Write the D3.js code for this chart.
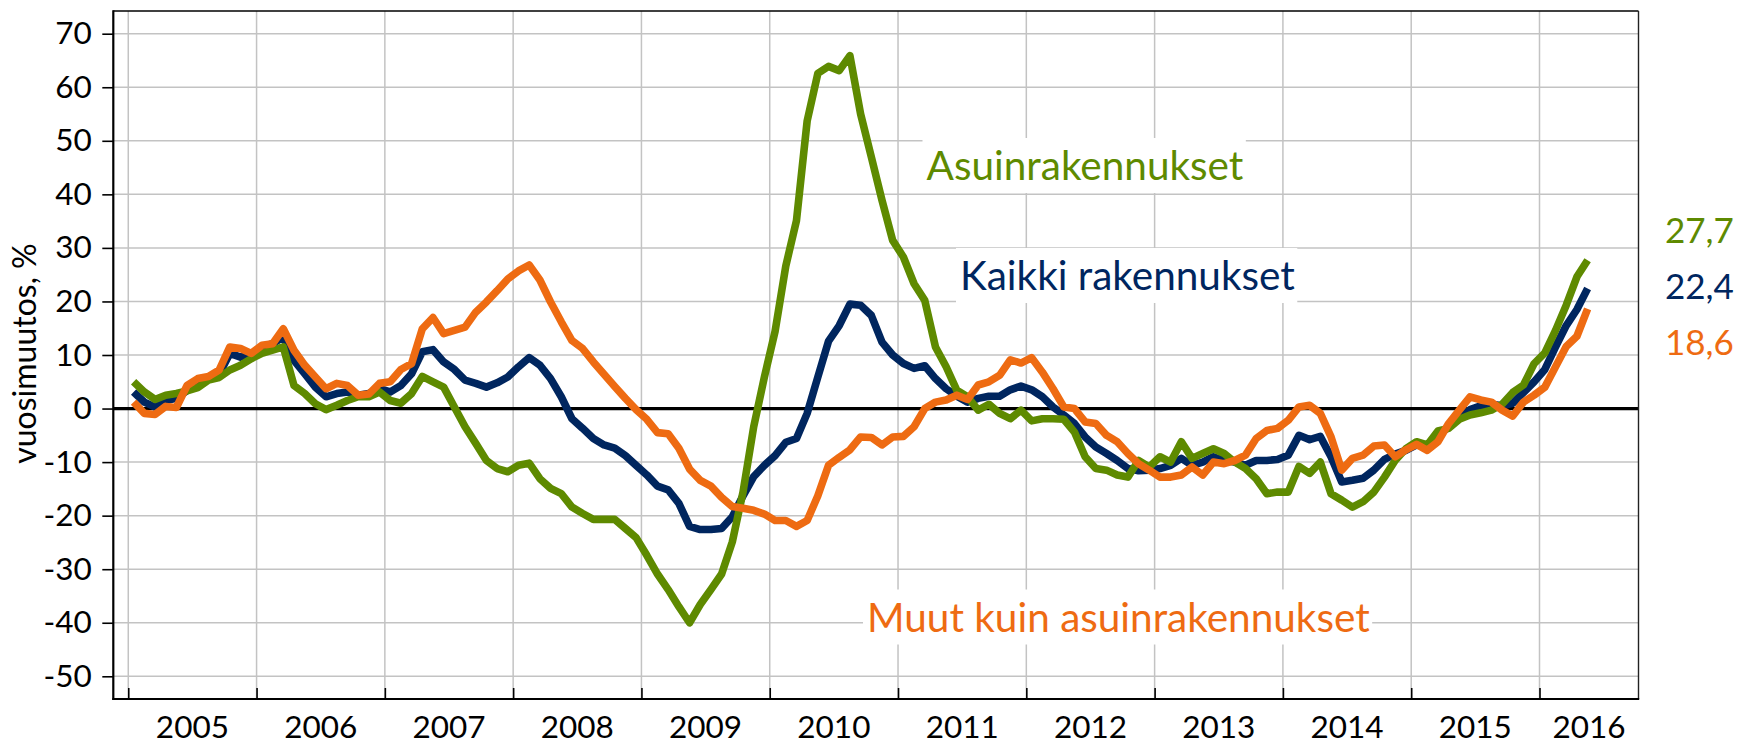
<!DOCTYPE html>
<html>
<head>
<meta charset="utf-8">
<script src="https://cdn.jsdelivr.net/npm/d3@7/dist/d3.min.js"></script>
<style>
  html, body { margin: 0; padding: 0; background: #ffffff; }
  svg { display: block; font-family: Lato, "Open Sans", sans-serif; }
</style>
</head>
<body>
<svg id="chart" width="1749" height="744"></svg>
<script>
// ---------------- DATA ----------------
const years = ["2005","2006","2007","2008","2009","2010","2011","2012","2013","2014","2015","2016"];
const monthCodes = ["01","02","03","04","05","06","07","08","09","10","11","12"];
// monthly categories 2005M01 ... 2016M05
const months = years.flatMap(y => monthCodes.map(m => y + "M" + m)).slice(0, 137);

const yTicks = [-50, -40, -30, -20, -10, 0, 10, 20, 30, 40, 50, 60, 70];

// Kaikki rakennukset (all buildings), annual change %
const kaikki = [
  3.1, 1.2, 0.3, 1.5, 1.9, 3.4, 4.8, 5.8, 6.4, 10.3, 9.6, 10.0,
  11.5, 12.1, 13.4, 9.0, 6.5, 4.0, 2.2, 2.8, 3.1, 2.5, 2.8, 3.7,
  3.1, 4.3, 6.5, 10.6, 11.0, 8.7, 7.3, 5.3, 4.7, 4.0, 4.8, 5.9,
  7.8, 9.5, 8.1, 5.6, 2.2, -1.9, -3.7, -5.6, -6.8, -7.4, -8.8, -10.6,
  -12.4, -14.5, -15.2, -17.7, -22.0, -22.6, -22.6, -22.4, -20.2, -16.3, -12.7, -10.6,
  -8.8, -6.3, -5.6, -0.9, 5.9, 12.6, 15.5, 19.5, 19.3, 17.4, 12.4, 10.0,
  8.4, 7.5, 8.0, 5.6, 3.7, 2.3, 1.2, 1.9, 2.3, 2.3, 3.5, 4.2,
  3.5, 2.2, 0.3, -1.2, -2.8, -5.3, -7.2, -8.4, -9.7, -11.2, -11.6, -11.5,
  -11.2, -10.6, -9.3, -10.6, -10.0, -9.0, -9.7, -10.0, -10.6, -9.7, -9.7, -9.5,
  -8.7, -5.0, -5.8, -5.2, -9.0, -13.7, -13.4, -13.0, -11.5, -9.5, -8.5, -7.8,
  -6.8, -7.0, -5.0, -3.5, -1.5, -0.2, 0.5, 0.8, 0.5, 1.0, 3.0, 5.0,
  7.3, 11.5, 15.5, 18.5, 22.4
];

// Asuinrakennukset (residential buildings)
const asuin = [
  5.0, 3.1, 1.7, 2.5, 2.8, 3.3, 3.9, 5.3, 5.8, 7.2, 8.1, 9.3,
  10.3, 10.9, 11.5, 4.3, 2.8, 0.9, -0.2, 0.6, 1.5, 2.2, 2.2, 3.1,
  1.5, 1.0, 2.8, 6.0, 5.0, 4.0, 0.3, -3.4, -6.5, -9.7, -11.2, -11.8,
  -10.6, -10.2, -13.1, -14.9, -15.9, -18.4, -19.6, -20.7, -20.7, -20.7, -22.4, -24.1,
  -27.4, -30.9, -33.8, -37.0, -40.0, -36.6, -33.8, -30.9, -24.9, -15.6, -3.4, 5.9,
  14.4, 26.6, 35.1, 53.7, 62.6, 63.9, 63.1, 65.9, 55.0, 47.0, 38.9, 31.4,
  28.3, 23.3, 20.2, 11.5, 7.8, 3.4, 2.2, -0.3, 0.8, -0.9, -1.9, -0.3,
  -2.3, -1.9, -1.9, -2.0, -4.4, -9.0, -11.2, -11.5, -12.4, -12.8, -9.7, -10.9,
  -9.0, -10.0, -6.2, -9.3, -8.4, -7.5, -8.4, -10.0, -11.2, -13.1, -15.9, -15.6,
  -15.6, -10.8, -12.1, -10.0, -15.9, -17.1, -18.4, -17.4, -15.6, -12.8, -9.7, -7.5,
  -6.2, -6.8, -4.2, -3.7, -2.0, -1.2, -0.8, -0.3, 0.8, 3.0, 4.4, 8.4,
  10.4, 14.6, 19.3, 24.6, 27.7
];

// Muut kuin asuinrakennukset (non-residential buildings)
const muut = [
  1.2, -0.9, -1.1, 0.4, 0.2, 4.3, 5.6, 6.0, 7.2, 11.5, 11.2, 10.3,
  11.8, 12.1, 14.9, 10.9, 8.1, 5.9, 3.7, 4.7, 4.3, 2.5, 2.7, 4.7,
  5.0, 7.3, 8.4, 14.9, 17.0, 14.0, 14.6, 15.2, 18.0, 19.9, 22.0, 24.2,
  25.7, 26.8, 24.0, 19.9, 16.2, 12.7, 11.2, 8.7, 6.4, 4.1, 1.9, -0.2,
  -2.0, -4.5, -4.7, -7.4, -11.3, -13.4, -14.5, -16.6, -18.3, -18.6, -19.0, -19.7,
  -20.9, -20.9, -22.0, -20.9, -16.3, -10.6, -9.1, -7.7, -5.3, -5.4, -6.8, -5.3,
  -5.2, -3.4, 0.0, 1.2, 1.6, 2.5, 1.7, 4.4, 5.0, 6.2, 9.1, 8.5,
  9.5, 6.8, 3.7, 0.3, 0.0, -2.5, -2.8, -5.0, -6.2, -8.4, -10.3, -11.5,
  -12.8, -12.8, -12.4, -10.9, -12.4, -10.0, -10.3, -9.7, -8.7, -5.6, -4.1, -3.7,
  -2.2, 0.3, 0.6, -0.9, -5.3, -11.5, -9.3, -8.7, -7.0, -6.8, -9.0, -7.7,
  -6.7, -7.8, -6.2, -2.8, -0.3, 2.2, 1.6, 1.2, -0.3, -1.4, 1.2, 2.5,
  4.0, 7.8, 11.6, 13.5, 18.6
];

const seriesNames = ["Kaikki rakennukset", "Asuinrakennukset", "Muut kuin asuinrakennukset"];
const seriesColors = ["#00265F", "#5E8A00", "#EE6B12"];
const lastLabels = ["22,4", "27,7", "18,6"];
const yTitle = "vuosimuutos, %";

// ---------------- LAYOUT ----------------
const plot = { left: 113.3, right: 1638.5, top: 11, bottom: 699 };

const x = d3.scaleLinear().domain([-1.9, 140.76]).range([plot.left, plot.right]);
const y = d3.scaleLinear().domain([-50, 70]).range([676.3, 33.7]);

const svg = d3.select("#chart");

// year boundaries (between Dec and Jan)
const yearBounds = years.map((yr, k) => 12 * k - 0.5);

// horizontal gridlines
svg.append("g").selectAll("line").data(yTicks).join("line")
  .attr("x1", plot.left).attr("x2", plot.right)
  .attr("y1", d => y(d)).attr("y2", d => y(d))
  .attr("stroke", "#c3c3c3").attr("stroke-width", 1.5);

// vertical gridlines
svg.append("g").selectAll("line").data(yearBounds).join("line")
  .attr("x1", d => x(d)).attr("x2", d => x(d))
  .attr("y1", plot.top).attr("y2", plot.bottom)
  .attr("stroke", "#c3c3c3").attr("stroke-width", 1.5);

// annotation boxes + text (white background hides gridlines)
const annos = [
  { text: seriesNames[1], color: seriesColors[1], x: 926.5, y: 180 },
  { text: seriesNames[0], color: seriesColors[0], x: 960, y: 290 },
  { text: seriesNames[2], color: seriesColors[2], x: 867, y: 631.5 }
];
const annoG = svg.append("g");
annos.forEach(a => {
  const g = annoG.append("g");
  const rect = g.append("rect").attr("fill", "#ffffff");
  const t = g.append("text")
    .attr("x", a.x).attr("y", a.y)
    .attr("fill", a.color)
    .style("font-size", "40.5px")
    .text(a.text);
  const bb = t.node().getBBox();
  rect.attr("x", bb.x - 4).attr("y", a.y - 42)
      .attr("width", bb.width + 6).attr("height", 55);
});

// zero line
svg.append("line")
  .attr("x1", plot.left).attr("x2", plot.right)
  .attr("y1", y(0)).attr("y2", y(0))
  .attr("stroke", "#000").attr("stroke-width", 3.2);

// series lines
const line = d3.line().x((d, i) => x(i)).y(d => y(d));
const seriesData = [kaikki, asuin, muut];
svg.append("g").selectAll("path").data(seriesData).join("path")
  .attr("d", d => line(d))
  .attr("fill", "none")
  .attr("stroke", (d, i) => seriesColors[i])
  .attr("stroke-width", 7.6)
  .attr("stroke-linejoin", "round")
  .attr("stroke-linecap", "butt");

// frame: top & right border
svg.append("line").attr("x1", plot.left).attr("x2", plot.right)
  .attr("y1", plot.top).attr("y2", plot.top)
  .attr("stroke", "#000").attr("stroke-width", 1.6);
svg.append("line").attr("x1", plot.right).attr("x2", plot.right)
  .attr("y1", plot.top).attr("y2", plot.bottom)
  .attr("stroke", "#222").attr("stroke-width", 1.4);

// y axis
const yAxis = d3.axisLeft(y).tickValues(yTicks).tickSize(11).tickPadding(10.5).tickFormat(d3.format("d"));
const yg = svg.append("g").attr("transform", `translate(${plot.left},0)`).call(yAxis);
yg.select(".domain").remove();
yg.selectAll(".tick line").attr("stroke", "#000").attr("stroke-width", 1.6);
yg.selectAll(".tick text").attr("fill", "#000").style("font-size", "31.5px")
  .style("font-family", "Lato, 'Open Sans', sans-serif")
  .text(d => d < 0 ? "-" + Math.abs(d) : d);
svg.append("line").attr("x1", plot.left).attr("x2", plot.left)
  .attr("y1", plot.top - 0.8).attr("y2", plot.bottom + 1)
  .attr("stroke", "#000").attr("stroke-width", 2.2);

// x axis (ticks at year boundaries, pointing inward)
const xAxis = d3.axisBottom(x).tickValues(yearBounds).tickSizeInner(-11).tickSizeOuter(0).tickFormat("");
const xg = svg.append("g").attr("transform", `translate(0,${plot.bottom})`).call(xAxis);
xg.select(".domain").remove();
xg.selectAll(".tick line").attr("stroke", "#000").attr("stroke-width", 1.6);
svg.append("line").attr("x1", plot.left - 1).attr("x2", plot.right + 0.7)
  .attr("y1", plot.bottom).attr("y2", plot.bottom)
  .attr("stroke", "#000").attr("stroke-width", 2.2);

// year labels centred within each year's span
svg.append("g").selectAll("text").data(years).join("text")
  .attr("x", (d, k) => {
    const a = x(12 * k - 0.5);
    const b = Math.min(x(12 * k + 11.5), plot.right);
    return (a + b) / 2;
  })
  .attr("y", 737.5)
  .attr("text-anchor", "middle")
  .attr("fill", "#000")
  .style("font-size", "31.5px")
  .text(d => d);

// y title
svg.append("text")
  .attr("transform", "translate(36,353.5) rotate(-90)")
  .attr("text-anchor", "middle")
  .attr("fill", "#000")
  .style("font-size", "32px")
  .text(yTitle);

// last-value labels at right
const lastPos = [299.3, 242.7, 355];
svg.append("g").selectAll("text").data(lastLabels).join("text")
  .attr("x", 1665)
  .attr("y", (d, i) => lastPos[i])
  .attr("fill", (d, i) => seriesColors[i])
  .style("font-size", "35px")
  .text(d => d);
</script>
</body>
</html>
